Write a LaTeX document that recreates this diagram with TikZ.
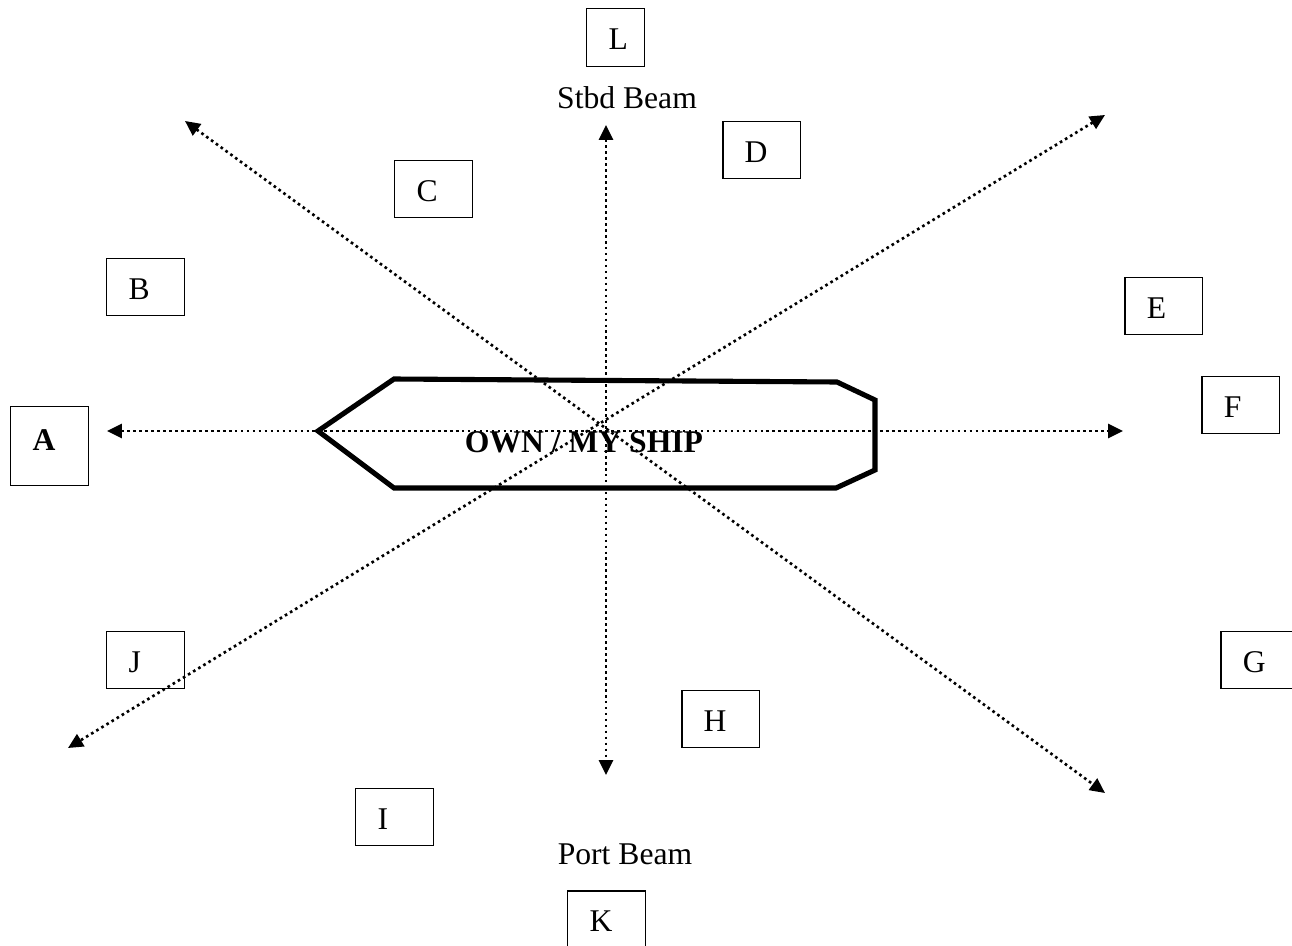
\documentclass[tikz,border=0pt]{standalone}
\usepackage{fontspec}
\setmainfont{Liberation Serif}
\usetikzlibrary{arrows.meta}

\begin{document}
\begin{tikzpicture}[x=0.02cm, y=-0.02cm, every node/.style = {font=\fontsize{18}{21}\selectfont}, box/.style = {draw, line width=0.85pt, anchor=north west, inner xsep=0.44cm, inner ysep=0pt, text width=0.68cm, align=left, text height=0.82cm, text depth=0.32cm}, bearing/.style = {line width=1.5pt, dash pattern=on 1.5pt off 1.9pt, {Triangle[length=0.3cm, width=0.28cm]}-{Triangle[length=0.3cm, width=0.28cm]}}]
\useasboundingbox (0,0) rectangle (1292,946);
\node[box, text width=0.28cm, text depth=0.34cm] (L) at (586,8) {L};
\node[box] (D) at (722,121) {D};
\node[box] (C) at (394,160) {C};
\node[box] (B) at (106,258) {B};
\node[box] (E) at (1124,277) {E};
\node[box] (F) at (1201,376) {F};
\node[box, text height=0.88cm, text depth=0.7cm] (A) at (10,406) {\textbf{A}};
\node[box] (G) at (1220,631) {G};
\node[box] (J) at (106,631) {J};
\node[box] (H) at (681,690) {H};
\node[box] (I) at (355,788) {I};
\node[box] (K) at (567,890) {K};
\node[anchor=base] (stbd) at (627,109) {Stbd Beam};
\node[anchor=base] (port) at (625,864) {Port Beam};
\coordinate (w) at (107,431);
\coordinate (e) at (1123,431);
\coordinate (n) at (606,125);
\coordinate (s) at (606,775);
\coordinate (nw) at (185,121);
\coordinate (se) at (1105,793);
\coordinate (ne) at (1105,115);
\coordinate (sw) at (68,748);
\draw[bearing] (w) -- (e);
\draw[bearing] (n) -- (s);
\draw[bearing] (nw) -- (se);
\draw[bearing] (ne) -- (sw);
\draw[line width=2.9pt] (318,431) -- (394,379) -- (837,382) -- (875,400) -- (875,470) -- (836,488) -- (394,488) -- cycle;
\node[anchor=base, font=\fontsize{18}{21}\selectfont\bfseries] (ship) at (584,452) {OWN / MY SHIP};
\end{tikzpicture}
\end{document}
